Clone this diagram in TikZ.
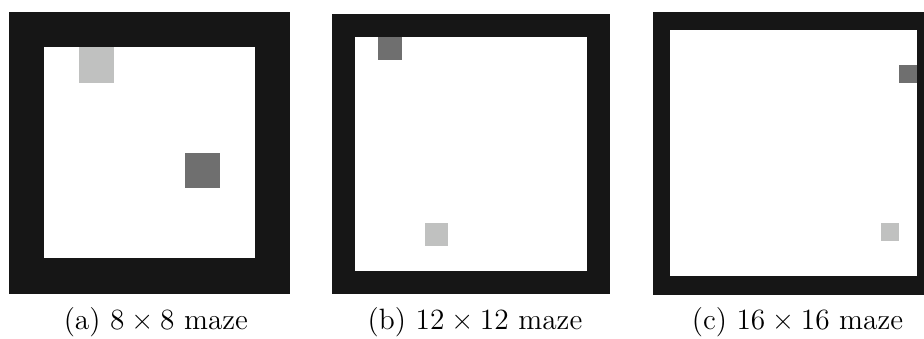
\documentclass[tikz,border=0pt]{standalone}
\usepackage{fontspec}
\definecolor{wallc}{RGB}{22,22,22}
\definecolor{goalc}{RGB}{192,193,192}
\definecolor{agentc}{RGB}{111,111,111}
\newcommand{\mtimes}{\hspace{0.222em}×\hspace{0.222em}}
\tikzset{
  wall/.style={fill=wallc},
  floor/.style={fill=white},
  goal/.style={fill=goalc},
  agent/.style={fill=agentc},
  caption/.style={anchor=base, inner sep=0pt, font=\fontsize{14.7}{17}\selectfont}
}
\begin{document}
\begin{tikzpicture}[x=0.5pt,y=-0.5pt]
\useasboundingbox (0,0) rectangle (924,338);
\begin{scope}
\clip (0,0) rectangle (924,338);
% (a) 8x8
\fill[wall] (9,12.3) rectangle (290.2,293.5);
\fill[floor] (44.15,47.45) rectangle (255.05,258.35);
\fill[goal] (79.3,47.45) rectangle (114.45,82.6);
\fill[agent] (184.75,153.2) rectangle (219.9,188.35);
% (b) 12x12
\fill[wall] (332,14) rectangle (610.4,294);
\fill[floor] (355.2,37.2) rectangle (587.2,270.8);
\fill[agent] (378.4,37.2) rectangle (401.6,60.4);
\fill[goal] (424.8,223.2) rectangle (448,246.4);
% (c) 16x16
\fill[wall] (652.7,12.3) rectangle (934.3,294.5);
\fill[floor] (670.3,29.9) rectangle (916.7,276.3);
\fill[agent] (898.7,65.1) rectangle (916.7,82.7);
\fill[goal] (881.1,223.1) rectangle (898.7,240.7);
\end{scope}
\node[caption] (capa) at (155.9,329) {(a) 8\mtimes8 maze};
\node[caption] (capb) at (475,329) {(b) 12\mtimes12 maze};
\node[caption] (capc) at (797.5,329) {(c) 16\mtimes16 maze};
\end{tikzpicture}
\end{document}
